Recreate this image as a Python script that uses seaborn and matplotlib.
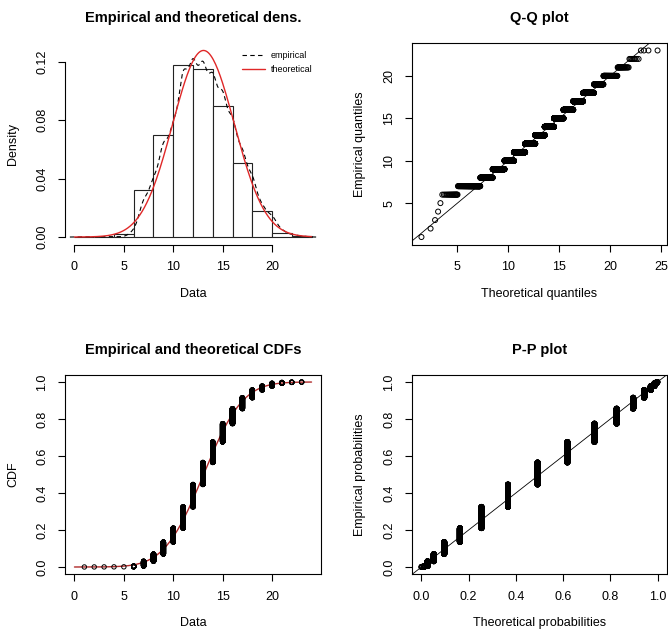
import numpy as np
import pandas as pd
import matplotlib
matplotlib.use("Agg")
import matplotlib.pyplot as plt
import seaborn as sns
from statistics import NormalDist

# ---- data ----
values = list(range(1, 24))
counts = [1, 1, 1, 1, 1, 20, 130, 195, 325, 375, 575, 605, 595, 555,
          495, 405, 295, 210, 105, 75, 23, 8, 4]
hist_breaks = list(range(0, 26, 2))
dens_xticks = [0, 5, 10, 15, 20]
dens_yticks = [0.00, 0.04, 0.08, 0.12]
qq_xticks = [5, 10, 15, 20, 25]
qq_yticks = [5, 10, 15, 20]
prob_ticks = [0.0, 0.2, 0.4, 0.6, 0.8, 1.0]
titles = ["Empirical and theoretical dens.", "Q-Q plot",
          "Empirical and theoretical CDFs", "P-P plot"]
legend_labels = ["empirical", "theoretical"]

sns.set_theme(style="white")
plt.rcParams["font.family"] = ["Liberation Sans", "DejaVu Sans"]
plt.rcParams["axes.edgecolor"] = "black"
plt.rcParams["axes.linewidth"] = 0.8
plt.rcParams["xtick.color"] = "black"
plt.rcParams["ytick.color"] = "black"
plt.rcParams["text.color"] = "black"
plt.rcParams["axes.labelcolor"] = "black"

data = np.repeat(values, counts).astype(float)
n = len(data)
mu = data.mean()
sigma = data.std()
nd = NormalDist(mu, sigma)
pp = (np.arange(1, n + 1) - 0.5) / n
sdata = np.sort(data)

RED = "#E02828"
FS_TICK = 9
FS_LAB = 9
FS_TITLE = 10.5

W, H = 668, 631
fig = plt.figure(figsize=(W / 100, H / 100), dpi=100)


def add_ax(l, t, r, b):
    return fig.add_axes([l / W, 1 - b / H, (r - l) / W, (b - t) / H])


ax1 = add_ax(65, 43, 321, 244.5)
ax2 = add_ax(412, 43, 667, 244.5)
ax3 = add_ax(65, 374.6, 321, 574.4)
ax4 = add_ax(412, 374.6, 667, 574.4)


def style(ax, box=True):
    ax.tick_params(axis="both", direction="out", length=5, width=0.8,
                   labelsize=FS_TICK, pad=7, bottom=True, left=True)
    for s in ax.spines.values():
        s.set_visible(box)
        s.set_linewidth(0.8)
    ax.grid(False)


def pad_lim(lo, hi):
    r = hi - lo
    return lo - 0.04 * r, hi + 0.04 * r


# ---- 1: density ----
binned = pd.cut(data, bins=hist_breaks, right=True, include_lowest=True)
bc = pd.Series(binned).value_counts(sort=False)
mids = np.array([iv.mid for iv in bc.index])
sns.histplot(x=mids, weights=bc.values, bins=hist_breaks, stat="density",
             color="white", edgecolor="#222222", linewidth=0.8, alpha=1,
             ax=ax1)
q75, q25 = np.percentile(data, [75, 25])
bw = 0.9 * min(data.std(ddof=1), (q75 - q25) / 1.34) * n ** (-0.2)
sns.kdeplot(x=data, bw_method=bw / data.std(ddof=1), gridsize=512, cut=3,
            color="black", linestyle=(0, (4, 3)), linewidth=0.8, ax=ax1,
            label=legend_labels[0])
xd = np.linspace(hist_breaks[0], hist_breaks[-1], 201)
yd = np.array([nd.pdf(v) for v in xd])
sns.lineplot(x=xd, y=yd, color=RED, linewidth=1.0, ax=ax1,
             label=legend_labels[1])
hist_max = (bc.values / (n * 2)).max()
ymax = max(yd.max(), hist_max)
ax1.set_xlim(*pad_lim(hist_breaks[0], hist_breaks[-1]))
ax1.set_ylim(*pad_lim(0, ymax))
ax1.set_xticks(dens_xticks)
ax1.set_yticks(dens_yticks)
ax1.set_yticklabels([f"{v:.2f}" for v in dens_yticks])
style(ax1, box=False)
ax1.spines["bottom"].set_visible(True)
ax1.spines["left"].set_visible(True)
ax1.spines["bottom"].set_bounds(dens_xticks[0], dens_xticks[-1])
ax1.spines["left"].set_bounds(dens_yticks[0], dens_yticks[-1])
leg = ax1.legend(loc="upper right", frameon=False, fontsize=6.5,
                 handlelength=2.6, borderaxespad=0.3, handletextpad=0.6,
                 labelspacing=0.5, bbox_to_anchor=(0.99, 0.99))
ax1.set_xlabel("Data", fontsize=FS_LAB)
ax1.set_ylabel("Density", fontsize=FS_LAB)

# ---- 2: Q-Q ----
theo_q = np.array([nd.inv_cdf(p) for p in pp])
sns.scatterplot(x=theo_q, y=sdata, marker="o", s=13, facecolors="none",
                edgecolor="black", linewidth=0.7, ax=ax2)
ax2.axline((0, 0), slope=1, color="black", linewidth=0.6)
ax2.set_xlim(*pad_lim(theo_q.min(), theo_q.max()))
ax2.set_ylim(*pad_lim(sdata.min(), sdata.max()))
ax2.set_xticks(qq_xticks)
ax2.set_yticks(qq_yticks)
style(ax2)
ax2.set_xlabel("Theoretical quantiles", fontsize=FS_LAB)
ax2.set_ylabel("Empirical quantiles", fontsize=FS_LAB)

# ---- 3: CDF ----
xc = np.linspace(hist_breaks[0], hist_breaks[-1], 201)
yc = np.array([nd.cdf(v) for v in xc])
sns.lineplot(x=xc, y=yc, color="#B02A2A", linewidth=1.0, ax=ax3)
sns.scatterplot(x=sdata, y=pp, marker="o", s=10, facecolors="none",
                edgecolor="black", linewidth=0.7, ax=ax3, zorder=3)
ax3.set_xlim(*pad_lim(hist_breaks[0], hist_breaks[-1]))
ax3.set_ylim(*pad_lim(0, 1))
ax3.set_xticks(dens_xticks)
ax3.set_yticks(prob_ticks)
ax3.set_yticklabels([f"{v:.1f}" for v in prob_ticks])
style(ax3)
ax3.set_xlabel("Data", fontsize=FS_LAB)
ax3.set_ylabel("CDF", fontsize=FS_LAB)

# ---- 4: P-P ----
theo_p = np.array([nd.cdf(v) for v in sdata])
sns.scatterplot(x=theo_p, y=pp, marker="o", s=13, facecolors="none",
                edgecolor="black", linewidth=0.7, ax=ax4)
ax4.axline((0, 0), slope=1, color="black", linewidth=0.6)
ax4.set_xlim(*pad_lim(0, 1))
ax4.set_ylim(*pad_lim(0, 1))
ax4.set_xticks(prob_ticks)
ax4.set_yticks(prob_ticks)
ax4.set_xticklabels([f"{v:.1f}" for v in prob_ticks])
ax4.set_yticklabels([f"{v:.1f}" for v in prob_ticks])
style(ax4)
ax4.set_xlabel("Theoretical probabilities", fontsize=FS_LAB)
ax4.set_ylabel("Empirical probabilities", fontsize=FS_LAB)

for ax, t in zip([ax1, ax2, ax3, ax4], titles):
    ax.set_title(t, fontsize=FS_TITLE, fontweight="bold", pad=15)
    ax.xaxis.set_label_coords(0.5, -0.215)
    ax.yaxis.set_label_coords(-0.18, 0.5)
    for lab in ax.get_yticklabels():
        lab.set_rotation(90)
        lab.set_va("center")

fig.savefig("out.png", dpi=100, facecolor="white")
